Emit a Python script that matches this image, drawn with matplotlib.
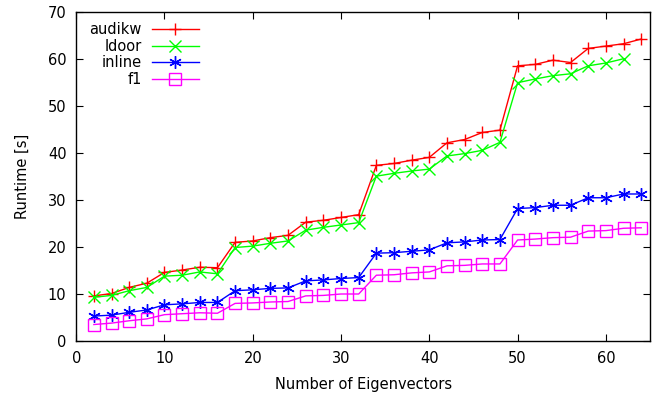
import matplotlib
matplotlib.use("Agg")
import matplotlib.pyplot as plt

x_all = list(range(2, 66, 2))
x_ldoor = list(range(2, 64, 2))

audikw = [9.6, 10.1, 11.4, 12.3, 14.6, 15.1, 15.7, 15.6, 21.0, 21.3, 22.0, 22.5,
          25.3, 25.7, 26.3, 26.9, 37.4, 37.8, 38.5, 39.1, 42.2, 42.9, 44.4, 44.9,
          58.6, 58.9, 59.8, 59.3, 62.3, 62.8, 63.3, 64.3]
ldoor = [9.3, 9.7, 10.7, 11.4, 13.8, 14.0, 14.7, 14.3, 19.9, 20.2, 20.8, 21.3,
         23.6, 24.2, 24.7, 25.2, 35.1, 35.7, 36.2, 36.6, 39.4, 39.9, 40.6, 42.3,
         55.0, 55.8, 56.5, 56.9, 58.6, 59.2, 60.1]
inline = [5.3, 5.5, 6.1, 6.6, 7.7, 7.9, 8.2, 8.2, 10.7, 10.9, 11.2, 11.3,
          12.8, 13.0, 13.3, 13.5, 18.7, 18.8, 19.1, 19.4, 20.9, 21.1, 21.5, 21.6,
          28.2, 28.4, 28.9, 28.9, 30.5, 30.5, 31.3, 31.3]
f1 = [3.5, 3.8, 4.3, 4.7, 5.6, 5.8, 6.0, 5.9, 8.0, 8.1, 8.3, 8.4,
      9.6, 9.7, 10.0, 10.0, 14.0, 14.1, 14.5, 14.7, 16.0, 16.1, 16.4, 16.4,
      21.5, 21.7, 22.0, 22.1, 23.4, 23.5, 24.0, 24.1]

xticks = [0, 10, 20, 30, 40, 50, 60]
yticks = [0, 10, 20, 30, 40, 50, 60, 70]

plt.rcParams['font.family'] = ['DejaVu Sans']
fig = plt.figure(figsize=(6.66, 3.96), dpi=100)
ax = fig.add_axes([0.1144, 0.139, 0.8616, 0.830])

lw = 1.0
ax.plot(x_all, audikw, color='#ff0000', marker='+', markersize=9, mew=1.0, lw=lw, label='audikw')
ax.plot(x_ldoor, ldoor, color='#00ff00', marker='x', markersize=8, mew=1.0, lw=lw, label='ldoor')
ax.plot(x_all, inline, color='#0000ff', marker=(6, 2, 0), markersize=9, mew=1.0, lw=lw, label='inline')
ax.plot(x_all, f1, color='#ff00ff', marker='s', markersize=8, mew=1.0, mfc='none', lw=lw, label='f1')

ax.set_xlim(0, 65)
ax.set_ylim(0, 70)
ax.set_xticks(xticks)
ax.set_yticks(yticks)
ax.tick_params(direction='in', top=True, right=True, length=5, labelsize=10.5, width=0.8)
ax.tick_params(axis='x', pad=7)
ax.tick_params(axis='y', pad=7)
for s in ax.spines.values():
    s.set_linewidth(1.0)
ax.set_xlabel('Number of Eigenvectors', fontsize=10.5, labelpad=8)
ax.set_ylabel('Runtime [s]', fontsize=10.5, labelpad=13)

leg = ax.legend(loc='upper left', frameon=False, markerfirst=False, fontsize=10.5,
                handlelength=3.2, labelspacing=0.1, borderaxespad=0.3,
                bbox_to_anchor=(0.005, 1.0), handletextpad=0.7)

fig.savefig('out.png', dpi=100)
